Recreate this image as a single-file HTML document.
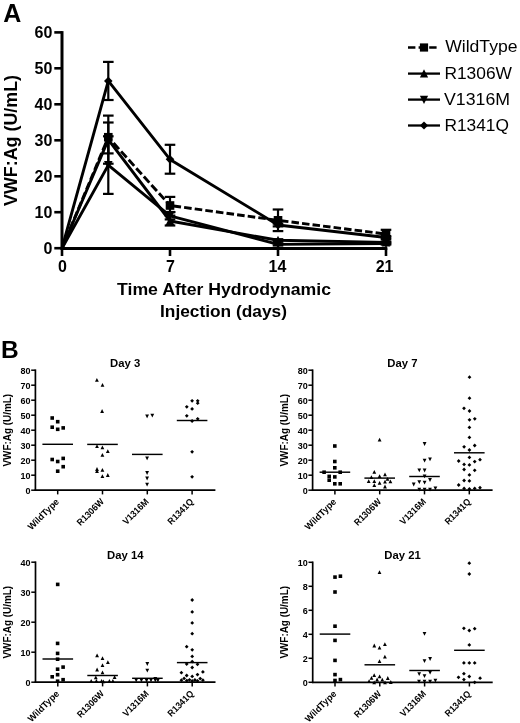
<!DOCTYPE html>
<html><head><meta charset="utf-8"><title>VWF:Ag figure</title>
<style>
html,body{margin:0;padding:0;background:#fff;}
body{width:520px;height:723px;overflow:hidden;}
svg{display:block;font-family:'Liberation Sans', Arial, sans-serif;}
</style></head>
<body>
<svg width="520" height="723" viewBox="0 0 520 723">
<rect width="520" height="723" fill="#fff"/>
<g fill="#000">
<text x="3.2" y="21.9" font-size="25" font-weight="bold">A</text>
<line x1="62.0" y1="31.1" x2="62.0" y2="249.5" stroke="#000" stroke-width="3"/>
<line x1="54.3" y1="248.2" x2="62.0" y2="248.2" stroke="#000" stroke-width="2.6"/>
<text x="52.4" y="254.2" font-size="16" font-weight="bold" text-anchor="end">0</text>
<line x1="54.3" y1="212.2" x2="62.0" y2="212.2" stroke="#000" stroke-width="2.6"/>
<text x="52.4" y="218.2" font-size="16" font-weight="bold" text-anchor="end">10</text>
<line x1="54.3" y1="176.3" x2="62.0" y2="176.3" stroke="#000" stroke-width="2.6"/>
<text x="52.4" y="182.3" font-size="16" font-weight="bold" text-anchor="end">20</text>
<line x1="54.3" y1="140.3" x2="62.0" y2="140.3" stroke="#000" stroke-width="2.6"/>
<text x="52.4" y="146.3" font-size="16" font-weight="bold" text-anchor="end">30</text>
<line x1="54.3" y1="104.3" x2="62.0" y2="104.3" stroke="#000" stroke-width="2.6"/>
<text x="52.4" y="110.3" font-size="16" font-weight="bold" text-anchor="end">40</text>
<line x1="54.3" y1="68.3" x2="62.0" y2="68.3" stroke="#000" stroke-width="2.6"/>
<text x="52.4" y="74.3" font-size="16" font-weight="bold" text-anchor="end">50</text>
<line x1="54.3" y1="32.4" x2="62.0" y2="32.4" stroke="#000" stroke-width="2.6"/>
<text x="52.4" y="38.4" font-size="16" font-weight="bold" text-anchor="end">60</text>
<line x1="60.5" y1="248.5" x2="387.3" y2="248.5" stroke="#000" stroke-width="3.1"/>
<line x1="62.0" y1="248.2" x2="62.0" y2="256" stroke="#000" stroke-width="2.6"/>
<text x="62.4" y="271.9" font-size="16" font-weight="bold" text-anchor="middle">0</text>
<line x1="170.0" y1="248.2" x2="170.0" y2="256" stroke="#000" stroke-width="2.6"/>
<text x="170.4" y="271.9" font-size="16" font-weight="bold" text-anchor="middle">7</text>
<line x1="278.0" y1="248.2" x2="278.0" y2="256" stroke="#000" stroke-width="2.6"/>
<text x="277.4" y="271.9" font-size="16" font-weight="bold" text-anchor="middle">14</text>
<line x1="386.0" y1="248.2" x2="386.0" y2="256" stroke="#000" stroke-width="2.6"/>
<text x="384.6" y="271.9" font-size="16" font-weight="bold" text-anchor="middle">21</text>
<text x="224" y="295" font-size="17.4" font-weight="bold" text-anchor="middle" textLength="214" lengthAdjust="spacingAndGlyphs">Time After Hydrodynamic</text>
<text x="223.5" y="316.5" font-size="17.4" font-weight="bold" text-anchor="middle" textLength="127" lengthAdjust="spacingAndGlyphs">Injection (days)</text>
<text transform="translate(17.2,140.5) rotate(-90)" x="0" y="0" font-size="17.9" font-weight="bold" text-anchor="middle" textLength="131" lengthAdjust="spacingAndGlyphs">VWF:Ag (U/mL)</text>
<line x1="108.3" y1="122.5" x2="108.3" y2="153.4" stroke="#000" stroke-width="2.2"/>
<line x1="103.0" y1="122.5" x2="113.6" y2="122.5" stroke="#000" stroke-width="2.2"/>
<line x1="103.0" y1="153.4" x2="113.6" y2="153.4" stroke="#000" stroke-width="2.2"/>
<line x1="170.0" y1="196.9" x2="170.0" y2="212.0" stroke="#000" stroke-width="2.2"/>
<line x1="164.7" y1="196.9" x2="175.3" y2="196.9" stroke="#000" stroke-width="2.2"/>
<line x1="164.7" y1="212.0" x2="175.3" y2="212.0" stroke="#000" stroke-width="2.2"/>
<line x1="278.0" y1="209.5" x2="278.0" y2="231.1" stroke="#000" stroke-width="2.2"/>
<line x1="272.7" y1="209.5" x2="283.3" y2="209.5" stroke="#000" stroke-width="2.2"/>
<line x1="272.7" y1="231.1" x2="283.3" y2="231.1" stroke="#000" stroke-width="2.2"/>
<line x1="386.0" y1="229.8" x2="386.0" y2="237.3" stroke="#000" stroke-width="2.2"/>
<line x1="380.7" y1="229.8" x2="391.3" y2="229.8" stroke="#000" stroke-width="2.2"/>
<line x1="380.7" y1="237.3" x2="391.3" y2="237.3" stroke="#000" stroke-width="2.2"/>
<line x1="108.3" y1="115.6" x2="108.3" y2="163.7" stroke="#000" stroke-width="2.2"/>
<line x1="103.0" y1="115.6" x2="113.6" y2="115.6" stroke="#000" stroke-width="2.2"/>
<line x1="103.0" y1="163.7" x2="113.6" y2="163.7" stroke="#000" stroke-width="2.2"/>
<line x1="170.0" y1="215.6" x2="170.0" y2="225.5" stroke="#000" stroke-width="2.2"/>
<line x1="164.7" y1="215.6" x2="175.3" y2="215.6" stroke="#000" stroke-width="2.2"/>
<line x1="164.7" y1="225.5" x2="175.3" y2="225.5" stroke="#000" stroke-width="2.2"/>
<line x1="278.0" y1="239.2" x2="278.0" y2="241.4" stroke="#000" stroke-width="2.2"/>
<line x1="272.7" y1="239.2" x2="283.3" y2="239.2" stroke="#000" stroke-width="2.2"/>
<line x1="272.7" y1="241.4" x2="283.3" y2="241.4" stroke="#000" stroke-width="2.2"/>
<line x1="386.0" y1="241.4" x2="386.0" y2="243.5" stroke="#000" stroke-width="2.2"/>
<line x1="380.7" y1="241.4" x2="391.3" y2="241.4" stroke="#000" stroke-width="2.2"/>
<line x1="380.7" y1="243.5" x2="391.3" y2="243.5" stroke="#000" stroke-width="2.2"/>
<line x1="108.3" y1="136.3" x2="108.3" y2="193.9" stroke="#000" stroke-width="2.2"/>
<line x1="103.0" y1="136.3" x2="113.6" y2="136.3" stroke="#000" stroke-width="2.2"/>
<line x1="103.0" y1="193.9" x2="113.6" y2="193.9" stroke="#000" stroke-width="2.2"/>
<line x1="170.0" y1="212.2" x2="170.0" y2="219.4" stroke="#000" stroke-width="2.2"/>
<line x1="164.7" y1="212.2" x2="175.3" y2="212.2" stroke="#000" stroke-width="2.2"/>
<line x1="164.7" y1="219.4" x2="175.3" y2="219.4" stroke="#000" stroke-width="2.2"/>
<line x1="278.0" y1="243.3" x2="278.0" y2="245.5" stroke="#000" stroke-width="2.2"/>
<line x1="272.7" y1="243.3" x2="283.3" y2="243.3" stroke="#000" stroke-width="2.2"/>
<line x1="272.7" y1="245.5" x2="283.3" y2="245.5" stroke="#000" stroke-width="2.2"/>
<line x1="386.0" y1="242.4" x2="386.0" y2="244.6" stroke="#000" stroke-width="2.2"/>
<line x1="380.7" y1="242.4" x2="391.3" y2="242.4" stroke="#000" stroke-width="2.2"/>
<line x1="380.7" y1="244.6" x2="391.3" y2="244.6" stroke="#000" stroke-width="2.2"/>
<line x1="108.3" y1="61.9" x2="108.3" y2="100.0" stroke="#000" stroke-width="2.2"/>
<line x1="103.0" y1="61.9" x2="113.6" y2="61.9" stroke="#000" stroke-width="2.2"/>
<line x1="103.0" y1="100.0" x2="113.6" y2="100.0" stroke="#000" stroke-width="2.2"/>
<line x1="170.0" y1="144.8" x2="170.0" y2="173.7" stroke="#000" stroke-width="2.2"/>
<line x1="164.7" y1="144.8" x2="175.3" y2="144.8" stroke="#000" stroke-width="2.2"/>
<line x1="164.7" y1="173.7" x2="175.3" y2="173.7" stroke="#000" stroke-width="2.2"/>
<line x1="278.0" y1="223.6" x2="278.0" y2="226.4" stroke="#000" stroke-width="2.2"/>
<line x1="272.7" y1="223.6" x2="283.3" y2="223.6" stroke="#000" stroke-width="2.2"/>
<line x1="272.7" y1="226.4" x2="283.3" y2="226.4" stroke="#000" stroke-width="2.2"/>
<line x1="386.0" y1="236.1" x2="386.0" y2="239.0" stroke="#000" stroke-width="2.2"/>
<line x1="380.7" y1="236.1" x2="391.3" y2="236.1" stroke="#000" stroke-width="2.2"/>
<line x1="380.7" y1="239.0" x2="391.3" y2="239.0" stroke="#000" stroke-width="2.2"/>
<line x1="62.00" y1="248.20" x2="108.29" y2="137.23" stroke="#000" stroke-width="2.9" stroke-dasharray="7.6,3.0" stroke-dashoffset="0.00"/>
<line x1="108.29" y1="137.23" x2="170.01" y2="205.50" stroke="#000" stroke-width="2.9" stroke-dasharray="8.2,3.1" stroke-dashoffset="3.50"/>
<line x1="170.01" y1="205.50" x2="278.02" y2="220.32" stroke="#000" stroke-width="2.9" stroke-dasharray="7.6,3.1" stroke-dashoffset="7.18"/>
<line x1="278.02" y1="220.32" x2="386.03" y2="234.10" stroke="#000" stroke-width="2.9" stroke-dasharray="7.5,3.1" stroke-dashoffset="7.61"/>
<polyline points="62.0,248.2 108.3,139.6 170.0,221.0 278.0,240.3 386.0,242.4" fill="none" stroke="#000" stroke-width="2.9" stroke-linejoin="round"/>
<polyline points="62.0,248.2 108.3,165.1 170.0,215.8 278.0,244.4 386.0,243.5" fill="none" stroke="#000" stroke-width="2.9" stroke-linejoin="round"/>
<polyline points="62.0,248.2 108.3,80.9 170.0,159.4 278.0,225.0 386.0,237.5" fill="none" stroke="#000" stroke-width="2.9" stroke-linejoin="round"/>
<g>
<rect x="103.99" y="132.93" width="8.60" height="8.60"/>
<rect x="165.71" y="201.20" width="8.60" height="8.60"/>
<rect x="273.72" y="216.02" width="8.60" height="8.60"/>
<rect x="381.73" y="229.80" width="8.60" height="8.60"/>
</g>
<g>
<path d="M108.29 135.06L112.59 143.66L103.99 143.66Z"/>
<path d="M170.01 216.49L174.31 225.09L165.71 225.09Z"/>
<path d="M278.02 235.77L282.32 244.37L273.72 244.37Z"/>
<path d="M386.03 237.93L390.33 246.53L381.73 246.53Z"/>
</g>
<g>
<path d="M108.29 169.62L112.59 161.02L103.99 161.02Z"/>
<path d="M170.01 220.34L174.31 211.74L165.71 211.74Z"/>
<path d="M278.02 248.94L282.32 240.34L273.72 240.34Z"/>
<path d="M386.03 248.04L390.33 239.44L381.73 239.44Z"/>
</g>
<g>
<path d="M108.29 76.64L112.59 80.94L108.29 85.24L103.99 80.94Z"/>
<path d="M170.01 155.05L174.31 159.35L170.01 163.65L165.71 159.35Z"/>
<path d="M278.02 220.70L282.32 225.00L278.02 229.30L273.72 225.00Z"/>
<path d="M386.03 233.22L390.33 237.52L386.03 241.82L381.73 237.52Z"/>
</g>
<line x1="408" y1="47.5" x2="438" y2="47.5" stroke="#000" stroke-width="2.3" stroke-dasharray="7.4,3.2"/>
<rect x="419.90" y="43.40" width="8.20" height="8.20"/>
<text x="445.2" y="52.2" font-size="16.6" textLength="72.3" lengthAdjust="spacingAndGlyphs">WildType</text>
<line x1="408" y1="73.6" x2="440" y2="73.6" stroke="#000" stroke-width="2.3"/>
<path d="M424.00 69.29L428.10 77.49L419.90 77.49Z"/>
<text x="444.4" y="78.6" font-size="16.6" textLength="67.6" lengthAdjust="spacingAndGlyphs">R1306W</text>
<line x1="408" y1="99.6" x2="440" y2="99.6" stroke="#000" stroke-width="2.3"/>
<path d="M424.00 103.91L428.10 95.70L419.90 95.70Z"/>
<text x="444.0" y="104.6" font-size="16.6" textLength="66.0" lengthAdjust="spacingAndGlyphs">V1316M</text>
<line x1="408" y1="125.5" x2="440" y2="125.5" stroke="#000" stroke-width="2.3"/>
<path d="M424.00 121.40L428.10 125.50L424.00 129.60L419.90 125.50Z"/>
<text x="444.4" y="130.8" font-size="16.6" textLength="64.6" lengthAdjust="spacingAndGlyphs">R1341Q</text>
<text x="1.0" y="358" font-size="24.5" font-weight="bold">B</text>
<text x="125.2" y="366.9" font-size="11.3" font-weight="bold" text-anchor="middle">Day 3</text>
<text transform="translate(11.1,430.2) rotate(-90)" font-size="10.7" font-weight="bold" text-anchor="middle" textLength="72.6" lengthAdjust="spacingAndGlyphs">VWF:Ag (U/mL)</text>
<line x1="35.4" y1="369.4" x2="35.4" y2="491.0" stroke="#000" stroke-width="1.7"/>
<line x1="34.6" y1="490.2" x2="215.4" y2="490.2" stroke="#000" stroke-width="1.7"/>
<line x1="31.2" y1="490.2" x2="35.4" y2="490.2" stroke="#000" stroke-width="1.5"/>
<text x="30.5" y="493.9" font-size="9" font-weight="bold" text-anchor="end">0</text>
<line x1="31.2" y1="475.2" x2="35.4" y2="475.2" stroke="#000" stroke-width="1.5"/>
<text x="30.5" y="478.9" font-size="9" font-weight="bold" text-anchor="end">10</text>
<line x1="31.2" y1="460.2" x2="35.4" y2="460.2" stroke="#000" stroke-width="1.5"/>
<text x="30.5" y="463.9" font-size="9" font-weight="bold" text-anchor="end">20</text>
<line x1="31.2" y1="445.2" x2="35.4" y2="445.2" stroke="#000" stroke-width="1.5"/>
<text x="30.5" y="448.9" font-size="9" font-weight="bold" text-anchor="end">30</text>
<line x1="31.2" y1="430.2" x2="35.4" y2="430.2" stroke="#000" stroke-width="1.5"/>
<text x="30.5" y="433.9" font-size="9" font-weight="bold" text-anchor="end">40</text>
<line x1="31.2" y1="415.2" x2="35.4" y2="415.2" stroke="#000" stroke-width="1.5"/>
<text x="30.5" y="418.9" font-size="9" font-weight="bold" text-anchor="end">50</text>
<line x1="31.2" y1="400.2" x2="35.4" y2="400.2" stroke="#000" stroke-width="1.5"/>
<text x="30.5" y="403.9" font-size="9" font-weight="bold" text-anchor="end">60</text>
<line x1="31.2" y1="385.2" x2="35.4" y2="385.2" stroke="#000" stroke-width="1.5"/>
<text x="30.5" y="388.9" font-size="9" font-weight="bold" text-anchor="end">70</text>
<line x1="31.2" y1="370.2" x2="35.4" y2="370.2" stroke="#000" stroke-width="1.5"/>
<text x="30.5" y="373.9" font-size="9" font-weight="bold" text-anchor="end">80</text>
<line x1="57.7" y1="490.2" x2="57.7" y2="494.4" stroke="#000" stroke-width="1.5"/>
<text transform="translate(59.7,502.3) rotate(-45)" font-size="9.3" font-weight="bold" text-anchor="end" textLength="40.0" lengthAdjust="spacingAndGlyphs">WildType</text>
<line x1="102.5" y1="490.2" x2="102.5" y2="494.4" stroke="#000" stroke-width="1.5"/>
<text transform="translate(104.5,502.3) rotate(-45)" font-size="9.3" font-weight="bold" text-anchor="end" textLength="33.9" lengthAdjust="spacingAndGlyphs">R1306W</text>
<line x1="147.3" y1="490.2" x2="147.3" y2="494.4" stroke="#000" stroke-width="1.5"/>
<text transform="translate(149.3,502.3) rotate(-45)" font-size="9.3" font-weight="bold" text-anchor="end" textLength="32.4" lengthAdjust="spacingAndGlyphs">V1316M</text>
<line x1="192.1" y1="490.2" x2="192.1" y2="494.4" stroke="#000" stroke-width="1.5"/>
<text transform="translate(194.1,502.3) rotate(-45)" font-size="9.3" font-weight="bold" text-anchor="end" textLength="32.4" lengthAdjust="spacingAndGlyphs">R1341Q</text>
<line x1="42.4" y1="444.3" x2="73.0" y2="444.3" stroke="#000" stroke-width="1.45"/>
<line x1="87.2" y1="444.4" x2="117.8" y2="444.4" stroke="#000" stroke-width="1.45"/>
<line x1="132.0" y1="454.4" x2="162.6" y2="454.4" stroke="#000" stroke-width="1.45"/>
<line x1="176.8" y1="420.5" x2="207.4" y2="420.5" stroke="#000" stroke-width="1.45"/>
<rect x="50.40" y="416.20" width="3.60" height="3.60"/>
<rect x="55.90" y="419.90" width="3.60" height="3.60"/>
<rect x="50.40" y="425.40" width="3.60" height="3.60"/>
<rect x="55.90" y="427.50" width="3.60" height="3.60"/>
<rect x="61.40" y="426.10" width="3.60" height="3.60"/>
<rect x="50.40" y="457.70" width="3.60" height="3.60"/>
<rect x="55.90" y="459.70" width="3.60" height="3.60"/>
<rect x="61.40" y="456.60" width="3.60" height="3.60"/>
<rect x="61.40" y="464.90" width="3.60" height="3.60"/>
<rect x="55.90" y="469.40" width="3.60" height="3.60"/>
<path d="M96.90 378.00L98.80 381.81L95.00 381.81Z"/>
<path d="M102.50 383.00L104.40 386.81L100.60 386.81Z"/>
<path d="M102.10 409.11L104.00 412.91L100.20 412.91Z"/>
<path d="M97.00 444.20L98.90 448.00L95.10 448.00Z"/>
<path d="M102.40 445.40L104.30 449.20L100.50 449.20Z"/>
<path d="M107.80 449.31L109.70 453.11L105.90 453.11Z"/>
<path d="M102.40 453.00L104.30 456.81L100.50 456.81Z"/>
<path d="M97.00 467.11L98.90 470.91L95.10 470.91Z"/>
<path d="M97.00 469.11L98.90 472.91L95.10 472.91Z"/>
<path d="M102.40 468.00L104.30 471.81L100.50 471.81Z"/>
<path d="M107.80 473.11L109.70 476.91L105.90 476.91Z"/>
<path d="M102.40 474.20L104.30 478.00L100.50 478.00Z"/>
<path d="M147.10 418.30L149.00 414.50L145.20 414.50Z"/>
<path d="M152.30 417.50L154.20 413.69L150.40 413.69Z"/>
<path d="M147.10 460.19L149.00 456.39L145.20 456.39Z"/>
<path d="M147.10 474.89L149.00 471.09L145.20 471.09Z"/>
<path d="M147.10 480.39L149.00 476.59L145.20 476.59Z"/>
<path d="M147.10 486.50L149.00 482.69L145.20 482.69Z"/>
<path d="M192.10 398.90L194.00 400.80L192.10 402.70L190.20 400.80Z"/>
<path d="M197.70 398.90L199.60 400.80L197.70 402.70L195.80 400.80Z"/>
<path d="M197.70 401.30L199.60 403.20L197.70 405.10L195.80 403.20Z"/>
<path d="M186.80 404.90L188.70 406.80L186.80 408.70L184.90 406.80Z"/>
<path d="M192.10 407.00L194.00 408.90L192.10 410.80L190.20 408.90Z"/>
<path d="M186.80 413.90L188.70 415.80L186.80 417.70L184.90 415.80Z"/>
<path d="M197.70 416.90L199.60 418.80L197.70 420.70L195.80 418.80Z"/>
<path d="M192.10 419.10L194.00 421.00L192.10 422.90L190.20 421.00Z"/>
<path d="M192.10 449.90L194.00 451.80L192.10 453.70L190.20 451.80Z"/>
<path d="M192.10 474.90L194.00 476.80L192.10 478.70L190.20 476.80Z"/>
<text x="402.4" y="366.9" font-size="11.3" font-weight="bold" text-anchor="middle">Day 7</text>
<text transform="translate(288.3,430.2) rotate(-90)" font-size="10.7" font-weight="bold" text-anchor="middle" textLength="72.6" lengthAdjust="spacingAndGlyphs">VWF:Ag (U/mL)</text>
<line x1="312.6" y1="369.4" x2="312.6" y2="491.0" stroke="#000" stroke-width="1.7"/>
<line x1="311.8" y1="490.2" x2="492.6" y2="490.2" stroke="#000" stroke-width="1.7"/>
<line x1="308.4" y1="490.2" x2="312.6" y2="490.2" stroke="#000" stroke-width="1.5"/>
<text x="307.7" y="493.9" font-size="9" font-weight="bold" text-anchor="end">0</text>
<line x1="308.4" y1="475.2" x2="312.6" y2="475.2" stroke="#000" stroke-width="1.5"/>
<text x="307.7" y="478.9" font-size="9" font-weight="bold" text-anchor="end">10</text>
<line x1="308.4" y1="460.2" x2="312.6" y2="460.2" stroke="#000" stroke-width="1.5"/>
<text x="307.7" y="463.9" font-size="9" font-weight="bold" text-anchor="end">20</text>
<line x1="308.4" y1="445.2" x2="312.6" y2="445.2" stroke="#000" stroke-width="1.5"/>
<text x="307.7" y="448.9" font-size="9" font-weight="bold" text-anchor="end">30</text>
<line x1="308.4" y1="430.2" x2="312.6" y2="430.2" stroke="#000" stroke-width="1.5"/>
<text x="307.7" y="433.9" font-size="9" font-weight="bold" text-anchor="end">40</text>
<line x1="308.4" y1="415.2" x2="312.6" y2="415.2" stroke="#000" stroke-width="1.5"/>
<text x="307.7" y="418.9" font-size="9" font-weight="bold" text-anchor="end">50</text>
<line x1="308.4" y1="400.2" x2="312.6" y2="400.2" stroke="#000" stroke-width="1.5"/>
<text x="307.7" y="403.9" font-size="9" font-weight="bold" text-anchor="end">60</text>
<line x1="308.4" y1="385.2" x2="312.6" y2="385.2" stroke="#000" stroke-width="1.5"/>
<text x="307.7" y="388.9" font-size="9" font-weight="bold" text-anchor="end">70</text>
<line x1="308.4" y1="370.2" x2="312.6" y2="370.2" stroke="#000" stroke-width="1.5"/>
<text x="307.7" y="373.9" font-size="9" font-weight="bold" text-anchor="end">80</text>
<line x1="334.9" y1="490.2" x2="334.9" y2="494.4" stroke="#000" stroke-width="1.5"/>
<text transform="translate(336.9,502.3) rotate(-45)" font-size="9.3" font-weight="bold" text-anchor="end" textLength="40.0" lengthAdjust="spacingAndGlyphs">WildType</text>
<line x1="379.7" y1="490.2" x2="379.7" y2="494.4" stroke="#000" stroke-width="1.5"/>
<text transform="translate(381.7,502.3) rotate(-45)" font-size="9.3" font-weight="bold" text-anchor="end" textLength="33.9" lengthAdjust="spacingAndGlyphs">R1306W</text>
<line x1="424.5" y1="490.2" x2="424.5" y2="494.4" stroke="#000" stroke-width="1.5"/>
<text transform="translate(426.5,502.3) rotate(-45)" font-size="9.3" font-weight="bold" text-anchor="end" textLength="32.4" lengthAdjust="spacingAndGlyphs">V1316M</text>
<line x1="469.3" y1="490.2" x2="469.3" y2="494.4" stroke="#000" stroke-width="1.5"/>
<text transform="translate(471.3,502.3) rotate(-45)" font-size="9.3" font-weight="bold" text-anchor="end" textLength="32.4" lengthAdjust="spacingAndGlyphs">R1341Q</text>
<line x1="319.6" y1="472.2" x2="350.2" y2="472.2" stroke="#000" stroke-width="1.45"/>
<line x1="364.4" y1="478.1" x2="395.0" y2="478.1" stroke="#000" stroke-width="1.45"/>
<line x1="409.2" y1="476.5" x2="439.8" y2="476.5" stroke="#000" stroke-width="1.45"/>
<line x1="454.0" y1="452.8" x2="484.6" y2="452.8" stroke="#000" stroke-width="1.45"/>
<rect x="333.00" y="444.20" width="3.60" height="3.60"/>
<rect x="333.00" y="459.70" width="3.60" height="3.60"/>
<rect x="333.00" y="466.00" width="3.60" height="3.60"/>
<rect x="322.30" y="470.40" width="3.60" height="3.60"/>
<rect x="338.40" y="470.40" width="3.60" height="3.60"/>
<rect x="327.40" y="474.60" width="3.60" height="3.60"/>
<rect x="327.40" y="478.40" width="3.60" height="3.60"/>
<rect x="333.00" y="475.10" width="3.60" height="3.60"/>
<rect x="333.00" y="482.00" width="3.60" height="3.60"/>
<rect x="338.40" y="482.00" width="3.60" height="3.60"/>
<path d="M379.60 437.70L381.50 441.50L377.70 441.50Z"/>
<path d="M374.30 470.00L376.20 473.81L372.40 473.81Z"/>
<path d="M385.00 472.50L386.90 476.31L383.10 476.31Z"/>
<path d="M371.40 475.20L373.30 479.00L369.50 479.00Z"/>
<path d="M379.60 474.31L381.50 478.11L377.70 478.11Z"/>
<path d="M368.70 479.20L370.60 483.00L366.80 483.00Z"/>
<path d="M374.30 479.20L376.20 483.00L372.40 483.00Z"/>
<path d="M379.60 481.00L381.50 484.81L377.70 484.81Z"/>
<path d="M385.00 479.70L386.90 483.50L383.10 483.50Z"/>
<path d="M390.40 479.40L392.30 483.20L388.50 483.20Z"/>
<path d="M374.30 483.31L376.20 487.11L372.40 487.11Z"/>
<path d="M385.00 484.61L386.90 488.41L383.10 488.41Z"/>
<path d="M387.50 477.00L389.40 480.81L385.60 480.81Z"/>
<path d="M424.60 445.89L426.50 442.09L422.70 442.09Z"/>
<path d="M424.60 462.50L426.50 458.69L422.70 458.69Z"/>
<path d="M430.00 461.19L431.90 457.39L428.10 457.39Z"/>
<path d="M419.30 472.30L421.20 468.50L417.40 468.50Z"/>
<path d="M424.60 472.39L426.50 468.59L422.70 468.59Z"/>
<path d="M424.60 478.30L426.50 474.50L422.70 474.50Z"/>
<path d="M430.00 481.89L431.90 478.09L428.10 478.09Z"/>
<path d="M413.70 486.39L415.60 482.59L411.80 482.59Z"/>
<path d="M419.30 484.10L421.20 480.30L417.40 480.30Z"/>
<path d="M424.60 484.60L426.50 480.80L422.70 480.80Z"/>
<path d="M419.30 491.60L421.20 487.80L417.40 487.80Z"/>
<path d="M424.60 491.60L426.50 487.80L422.70 487.80Z"/>
<path d="M430.00 491.60L431.90 487.80L428.10 487.80Z"/>
<path d="M435.40 490.30L437.30 486.50L433.50 486.50Z"/>
<path d="M469.50 375.30L471.40 377.20L469.50 379.10L467.60 377.20Z"/>
<path d="M469.50 396.30L471.40 398.20L469.50 400.10L467.60 398.20Z"/>
<path d="M464.00 406.40L465.90 408.30L464.00 410.20L462.10 408.30Z"/>
<path d="M469.50 409.10L471.40 411.00L469.50 412.90L467.60 411.00Z"/>
<path d="M469.50 417.90L471.40 419.80L469.50 421.70L467.60 419.80Z"/>
<path d="M474.80 416.90L476.70 418.80L474.80 420.70L472.90 418.80Z"/>
<path d="M469.40 425.50L471.30 427.40L469.40 429.30L467.50 427.40Z"/>
<path d="M469.40 435.50L471.30 437.40L469.40 439.30L467.50 437.40Z"/>
<path d="M464.10 444.90L466.00 446.80L464.10 448.70L462.20 446.80Z"/>
<path d="M474.70 443.60L476.60 445.50L474.70 447.40L472.80 445.50Z"/>
<path d="M469.40 448.10L471.30 450.00L469.40 451.90L467.50 450.00Z"/>
<path d="M469.40 455.50L471.30 457.40L469.40 459.30L467.50 457.40Z"/>
<path d="M458.70 459.10L460.60 461.00L458.70 462.90L456.80 461.00Z"/>
<path d="M480.00 457.80L481.90 459.70L480.00 461.60L478.10 459.70Z"/>
<path d="M474.70 459.70L476.60 461.60L474.70 463.50L472.80 461.60Z"/>
<path d="M464.10 462.50L466.00 464.40L464.10 466.30L462.20 464.40Z"/>
<path d="M469.40 463.00L471.30 464.90L469.40 466.80L467.50 464.90Z"/>
<path d="M464.10 467.60L466.00 469.50L464.10 471.40L462.20 469.50Z"/>
<path d="M474.70 468.40L476.60 470.30L474.70 472.20L472.80 470.30Z"/>
<path d="M469.40 473.00L471.30 474.90L469.40 476.80L467.50 474.90Z"/>
<path d="M464.10 478.60L466.00 480.50L464.10 482.40L462.20 480.50Z"/>
<path d="M469.40 479.00L471.30 480.90L469.40 482.80L467.50 480.90Z"/>
<path d="M458.70 483.10L460.60 485.00L458.70 486.90L456.80 485.00Z"/>
<path d="M464.10 486.50L466.00 488.40L464.10 490.30L462.20 488.40Z"/>
<path d="M474.70 486.50L476.60 488.40L474.70 490.30L472.80 488.40Z"/>
<path d="M480.00 485.80L481.90 487.70L480.00 489.60L478.10 487.70Z"/>
<path d="M469.40 487.10L471.30 489.00L469.40 490.90L467.50 489.00Z"/>
<text x="125.3" y="558.9" font-size="11.3" font-weight="bold" text-anchor="middle">Day 14</text>
<text transform="translate(11.2,622.2) rotate(-90)" font-size="10.7" font-weight="bold" text-anchor="middle" textLength="72.6" lengthAdjust="spacingAndGlyphs">VWF:Ag (U/mL)</text>
<line x1="35.5" y1="561.4" x2="35.5" y2="683.0" stroke="#000" stroke-width="1.7"/>
<line x1="34.7" y1="682.2" x2="215.5" y2="682.2" stroke="#000" stroke-width="1.7"/>
<line x1="31.3" y1="682.2" x2="35.5" y2="682.2" stroke="#000" stroke-width="1.5"/>
<text x="30.6" y="685.9" font-size="9" font-weight="bold" text-anchor="end">0</text>
<line x1="31.3" y1="652.2" x2="35.5" y2="652.2" stroke="#000" stroke-width="1.5"/>
<text x="30.6" y="655.9" font-size="9" font-weight="bold" text-anchor="end">10</text>
<line x1="31.3" y1="622.2" x2="35.5" y2="622.2" stroke="#000" stroke-width="1.5"/>
<text x="30.6" y="625.9" font-size="9" font-weight="bold" text-anchor="end">20</text>
<line x1="31.3" y1="592.2" x2="35.5" y2="592.2" stroke="#000" stroke-width="1.5"/>
<text x="30.6" y="595.9" font-size="9" font-weight="bold" text-anchor="end">30</text>
<line x1="31.3" y1="562.2" x2="35.5" y2="562.2" stroke="#000" stroke-width="1.5"/>
<text x="30.6" y="565.9" font-size="9" font-weight="bold" text-anchor="end">40</text>
<line x1="57.8" y1="682.2" x2="57.8" y2="686.4" stroke="#000" stroke-width="1.5"/>
<text transform="translate(59.8,694.3) rotate(-45)" font-size="9.3" font-weight="bold" text-anchor="end" textLength="40.0" lengthAdjust="spacingAndGlyphs">WildType</text>
<line x1="102.6" y1="682.2" x2="102.6" y2="686.4" stroke="#000" stroke-width="1.5"/>
<text transform="translate(104.6,694.3) rotate(-45)" font-size="9.3" font-weight="bold" text-anchor="end" textLength="33.9" lengthAdjust="spacingAndGlyphs">R1306W</text>
<line x1="147.4" y1="682.2" x2="147.4" y2="686.4" stroke="#000" stroke-width="1.5"/>
<text transform="translate(149.4,694.3) rotate(-45)" font-size="9.3" font-weight="bold" text-anchor="end" textLength="32.4" lengthAdjust="spacingAndGlyphs">V1316M</text>
<line x1="192.2" y1="682.2" x2="192.2" y2="686.4" stroke="#000" stroke-width="1.5"/>
<text transform="translate(194.2,694.3) rotate(-45)" font-size="9.3" font-weight="bold" text-anchor="end" textLength="32.4" lengthAdjust="spacingAndGlyphs">R1341Q</text>
<line x1="42.5" y1="659.0" x2="73.1" y2="659.0" stroke="#000" stroke-width="1.45"/>
<line x1="87.3" y1="675.5" x2="117.9" y2="675.5" stroke="#000" stroke-width="1.45"/>
<line x1="132.1" y1="678.3" x2="162.7" y2="678.3" stroke="#000" stroke-width="1.45"/>
<line x1="176.9" y1="662.6" x2="207.5" y2="662.6" stroke="#000" stroke-width="1.45"/>
<rect x="55.90" y="582.60" width="3.60" height="3.60"/>
<rect x="55.80" y="641.60" width="3.60" height="3.60"/>
<rect x="55.80" y="651.60" width="3.60" height="3.60"/>
<rect x="55.80" y="657.40" width="3.60" height="3.60"/>
<rect x="61.30" y="665.30" width="3.60" height="3.60"/>
<rect x="55.80" y="667.40" width="3.60" height="3.60"/>
<rect x="55.80" y="672.90" width="3.60" height="3.60"/>
<rect x="50.40" y="675.00" width="3.60" height="3.60"/>
<rect x="55.80" y="679.40" width="3.60" height="3.60"/>
<rect x="61.30" y="677.90" width="3.60" height="3.60"/>
<path d="M97.10 653.40L99.00 657.20L95.20 657.20Z"/>
<path d="M102.50 656.21L104.40 660.00L100.60 660.00Z"/>
<path d="M107.90 660.21L109.80 664.00L106.00 664.00Z"/>
<path d="M102.50 663.30L104.40 667.10L100.60 667.10Z"/>
<path d="M97.10 667.61L99.00 671.40L95.20 671.40Z"/>
<path d="M102.50 670.40L104.40 674.20L100.60 674.20Z"/>
<path d="M95.80 675.40L97.70 679.20L93.90 679.20Z"/>
<path d="M114.60 675.21L116.50 679.00L112.70 679.00Z"/>
<path d="M91.20 679.00L93.10 682.80L89.30 682.80Z"/>
<path d="M96.40 679.00L98.30 682.80L94.50 682.80Z"/>
<path d="M101.60 679.00L103.50 682.80L99.70 682.80Z"/>
<path d="M103.40 679.50L105.30 683.30L101.50 683.30Z"/>
<path d="M109.40 679.00L111.30 682.80L107.50 682.80Z"/>
<path d="M112.90 679.00L114.80 682.80L111.00 682.80Z"/>
<path d="M147.30 665.89L149.20 662.10L145.40 662.10Z"/>
<path d="M147.30 672.60L149.20 668.80L145.40 668.80Z"/>
<path d="M136.20 682.20L138.10 678.40L134.30 678.40Z"/>
<path d="M141.40 682.20L143.30 678.40L139.50 678.40Z"/>
<path d="M146.60 682.60L148.50 678.80L144.70 678.80Z"/>
<path d="M151.00 682.20L152.90 678.40L149.10 678.40Z"/>
<path d="M155.30 682.20L157.20 678.40L153.40 678.40Z"/>
<path d="M157.90 682.39L159.80 678.60L156.00 678.60Z"/>
<path d="M155.30 680.79L157.20 677.00L153.40 677.00Z"/>
<path d="M192.20 598.10L194.10 600.00L192.20 601.90L190.30 600.00Z"/>
<path d="M192.20 610.00L194.10 611.90L192.20 613.80L190.30 611.90Z"/>
<path d="M192.20 621.00L194.10 622.90L192.20 624.80L190.30 622.90Z"/>
<path d="M192.20 631.80L194.10 633.70L192.20 635.60L190.30 633.70Z"/>
<path d="M186.70 644.80L188.60 646.70L186.70 648.60L184.80 646.70Z"/>
<path d="M192.20 647.90L194.10 649.80L192.20 651.70L190.30 649.80Z"/>
<path d="M192.20 654.50L194.10 656.40L192.20 658.30L190.30 656.40Z"/>
<path d="M192.20 659.70L194.10 661.60L192.20 663.50L190.30 661.60Z"/>
<path d="M186.70 662.10L188.60 664.00L186.70 665.90L184.80 664.00Z"/>
<path d="M197.50 662.40L199.40 664.30L197.50 666.20L195.60 664.30Z"/>
<path d="M192.20 665.60L194.10 667.50L192.20 669.40L190.30 667.50Z"/>
<path d="M181.40 670.80L183.30 672.70L181.40 674.60L179.50 672.70Z"/>
<path d="M202.90 670.00L204.80 671.90L202.90 673.80L201.00 671.90Z"/>
<path d="M186.70 673.60L188.60 675.50L186.70 677.40L184.80 675.50Z"/>
<path d="M197.50 672.70L199.40 674.60L197.50 676.50L195.60 674.60Z"/>
<path d="M192.20 674.50L194.10 676.40L192.20 678.30L190.30 676.40Z"/>
<path d="M181.40 678.30L183.30 680.20L181.40 682.10L179.50 680.20Z"/>
<path d="M184.10 676.50L186.00 678.40L184.10 680.30L182.20 678.40Z"/>
<path d="M186.80 678.70L188.70 680.60L186.80 682.50L184.90 680.60Z"/>
<path d="M189.50 677.90L191.40 679.80L189.50 681.70L187.60 679.80Z"/>
<path d="M192.20 679.10L194.10 681.00L192.20 682.90L190.30 681.00Z"/>
<path d="M194.90 678.10L196.80 680.00L194.90 681.90L193.00 680.00Z"/>
<path d="M197.50 678.90L199.40 680.80L197.50 682.70L195.60 680.80Z"/>
<path d="M200.20 676.70L202.10 678.60L200.20 680.50L198.30 678.60Z"/>
<path d="M202.90 678.30L204.80 680.20L202.90 682.10L201.00 680.20Z"/>
<text x="402.5" y="559.0" font-size="11.3" font-weight="bold" text-anchor="middle">Day 21</text>
<text transform="translate(288.4,622.3) rotate(-90)" font-size="10.7" font-weight="bold" text-anchor="middle" textLength="72.6" lengthAdjust="spacingAndGlyphs">VWF:Ag (U/mL)</text>
<line x1="312.7" y1="561.5" x2="312.7" y2="683.1" stroke="#000" stroke-width="1.7"/>
<line x1="311.9" y1="682.3" x2="492.7" y2="682.3" stroke="#000" stroke-width="1.7"/>
<line x1="308.5" y1="682.3" x2="312.7" y2="682.3" stroke="#000" stroke-width="1.5"/>
<text x="307.8" y="686.0" font-size="9" font-weight="bold" text-anchor="end">0</text>
<line x1="308.5" y1="658.3" x2="312.7" y2="658.3" stroke="#000" stroke-width="1.5"/>
<text x="307.8" y="662.0" font-size="9" font-weight="bold" text-anchor="end">2</text>
<line x1="308.5" y1="634.3" x2="312.7" y2="634.3" stroke="#000" stroke-width="1.5"/>
<text x="307.8" y="638.0" font-size="9" font-weight="bold" text-anchor="end">4</text>
<line x1="308.5" y1="610.3" x2="312.7" y2="610.3" stroke="#000" stroke-width="1.5"/>
<text x="307.8" y="614.0" font-size="9" font-weight="bold" text-anchor="end">6</text>
<line x1="308.5" y1="586.3" x2="312.7" y2="586.3" stroke="#000" stroke-width="1.5"/>
<text x="307.8" y="590.0" font-size="9" font-weight="bold" text-anchor="end">8</text>
<line x1="308.5" y1="562.3" x2="312.7" y2="562.3" stroke="#000" stroke-width="1.5"/>
<text x="307.8" y="566.0" font-size="9" font-weight="bold" text-anchor="end">10</text>
<line x1="335.0" y1="682.3" x2="335.0" y2="686.5" stroke="#000" stroke-width="1.5"/>
<text transform="translate(337.0,694.4) rotate(-45)" font-size="9.3" font-weight="bold" text-anchor="end" textLength="40.0" lengthAdjust="spacingAndGlyphs">WildType</text>
<line x1="379.8" y1="682.3" x2="379.8" y2="686.5" stroke="#000" stroke-width="1.5"/>
<text transform="translate(381.8,694.4) rotate(-45)" font-size="9.3" font-weight="bold" text-anchor="end" textLength="33.9" lengthAdjust="spacingAndGlyphs">R1306W</text>
<line x1="424.6" y1="682.3" x2="424.6" y2="686.5" stroke="#000" stroke-width="1.5"/>
<text transform="translate(426.6,694.4) rotate(-45)" font-size="9.3" font-weight="bold" text-anchor="end" textLength="32.4" lengthAdjust="spacingAndGlyphs">V1316M</text>
<line x1="469.4" y1="682.3" x2="469.4" y2="686.5" stroke="#000" stroke-width="1.5"/>
<text transform="translate(471.4,694.4) rotate(-45)" font-size="9.3" font-weight="bold" text-anchor="end" textLength="32.4" lengthAdjust="spacingAndGlyphs">R1341Q</text>
<line x1="319.7" y1="634.1" x2="350.3" y2="634.1" stroke="#000" stroke-width="1.45"/>
<line x1="364.5" y1="664.8" x2="395.1" y2="664.8" stroke="#000" stroke-width="1.45"/>
<line x1="409.3" y1="670.5" x2="439.9" y2="670.5" stroke="#000" stroke-width="1.45"/>
<line x1="454.1" y1="650.3" x2="484.7" y2="650.3" stroke="#000" stroke-width="1.45"/>
<rect x="333.20" y="575.30" width="3.60" height="3.60"/>
<rect x="338.60" y="574.40" width="3.60" height="3.60"/>
<rect x="333.20" y="590.20" width="3.60" height="3.60"/>
<rect x="333.20" y="624.40" width="3.60" height="3.60"/>
<rect x="333.20" y="638.60" width="3.60" height="3.60"/>
<rect x="333.20" y="658.60" width="3.60" height="3.60"/>
<rect x="333.20" y="672.80" width="3.60" height="3.60"/>
<rect x="333.20" y="678.70" width="3.60" height="3.60"/>
<rect x="338.60" y="677.80" width="3.60" height="3.60"/>
<path d="M379.50 570.21L381.40 574.00L377.60 574.00Z"/>
<path d="M374.30 643.61L376.20 647.40L372.40 647.40Z"/>
<path d="M379.50 645.80L381.40 649.60L377.60 649.60Z"/>
<path d="M384.90 642.21L386.80 646.00L383.00 646.00Z"/>
<path d="M384.90 654.80L386.80 658.60L383.00 658.60Z"/>
<path d="M379.50 659.30L381.40 663.10L377.60 663.10Z"/>
<path d="M374.20 673.21L376.10 677.00L372.30 677.00Z"/>
<path d="M371.50 675.90L373.40 679.70L369.60 679.70Z"/>
<path d="M379.60 674.50L381.50 678.30L377.70 678.30Z"/>
<path d="M377.10 677.61L379.00 681.40L375.20 681.40Z"/>
<path d="M382.30 677.80L384.20 681.60L380.40 681.60Z"/>
<path d="M387.80 676.11L389.70 679.90L385.90 679.90Z"/>
<path d="M369.10 679.21L371.00 683.00L367.20 683.00Z"/>
<path d="M374.20 680.50L376.10 684.30L372.30 684.30Z"/>
<path d="M385.00 680.50L386.90 684.30L383.10 684.30Z"/>
<path d="M390.80 680.11L392.70 683.90L388.90 683.90Z"/>
<path d="M424.50 635.70L426.40 631.90L422.60 631.90Z"/>
<path d="M424.50 663.10L426.40 659.30L422.60 659.30Z"/>
<path d="M430.10 660.89L432.00 657.10L428.20 657.10Z"/>
<path d="M419.20 676.00L421.10 672.20L417.30 672.20Z"/>
<path d="M430.10 674.60L432.00 670.80L428.20 670.80Z"/>
<path d="M424.50 678.10L426.40 674.30L422.60 674.30Z"/>
<path d="M419.00 683.50L420.90 679.70L417.10 679.70Z"/>
<path d="M424.50 683.50L426.40 679.70L422.60 679.70Z"/>
<path d="M430.10 683.50L432.00 679.70L428.20 679.70Z"/>
<path d="M435.40 682.50L437.30 678.70L433.50 678.70Z"/>
<path d="M469.30 561.30L471.20 563.20L469.30 565.10L467.40 563.20Z"/>
<path d="M469.30 572.10L471.20 574.00L469.30 575.90L467.40 574.00Z"/>
<path d="M463.90 626.40L465.80 628.30L463.90 630.20L462.00 628.30Z"/>
<path d="M469.30 628.60L471.20 630.50L469.30 632.40L467.40 630.50Z"/>
<path d="M474.70 626.80L476.60 628.70L474.70 630.60L472.80 628.70Z"/>
<path d="M469.30 643.00L471.20 644.90L469.30 646.80L467.40 644.90Z"/>
<path d="M463.90 661.00L465.80 662.90L463.90 664.80L462.00 662.90Z"/>
<path d="M469.30 661.00L471.20 662.90L469.30 664.80L467.40 662.90Z"/>
<path d="M474.70 661.00L476.60 662.90L474.70 664.80L472.80 662.90Z"/>
<path d="M463.90 671.80L465.80 673.70L463.90 675.60L462.00 673.70Z"/>
<path d="M458.50 675.40L460.40 677.30L458.50 679.20L456.60 677.30Z"/>
<path d="M469.30 674.60L471.20 676.50L469.30 678.40L467.40 676.50Z"/>
<path d="M480.10 676.30L482.00 678.20L480.10 680.10L478.20 678.20Z"/>
<path d="M463.90 677.70L465.80 679.60L463.90 681.50L462.00 679.60Z"/>
<path d="M474.70 680.40L476.60 682.30L474.70 684.20L472.80 682.30Z"/>
</g>
</svg>
</body></html>
